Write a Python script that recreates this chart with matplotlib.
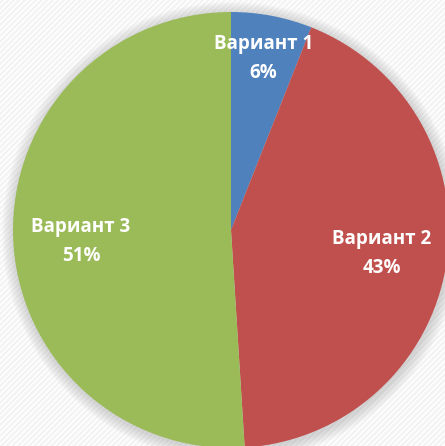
import numpy as np
import matplotlib.pyplot as plt
from matplotlib.patches import Rectangle, Circle

# data
labels = ['Вариант 1', 'Вариант 2', 'Вариант 3']
values = [6, 43, 51]
colors = ['#4F81BD', '#C0504D', '#9BBB59']
label_dist = [0.80, 0.70, 0.69]
label_turn = [0, 0, 2.5]   # small angle nudge for label placement, degrees

W, H = 445, 446
cx, cy, R = 231, H - 230, 218

plt.rcParams['hatch.linewidth'] = 1.2
fig = plt.figure(figsize=(W / 100, H / 100), dpi=100)
ax = fig.add_axes([0, 0, 1, 1])

# textured background
ax.add_patch(Rectangle((0, 0), W, H, facecolor='#f3f3f3', edgecolor='white',
                       hatch='//////', linewidth=0, zorder=0))

# soft shadow around the pie
for i in range(12):
    ax.add_patch(Circle((cx + 1, cy - 2), R + 12 - i, facecolor='#9a9a9a',
                        edgecolor='none', alpha=0.035, zorder=1))

wedges, _ = ax.pie(values, colors=colors, startangle=90, counterclock=False,
                   center=(cx, cy), radius=R, frame=True,
                   wedgeprops=dict(linewidth=0, zorder=2))
ax.set_xlim(0, W)
ax.set_ylim(0, H)
ax.set_aspect('equal')
ax.axis('off')

for w, lab, v, d, t in zip(wedges, labels, values, label_dist, label_turn):
    ang = np.deg2rad((w.theta1 + w.theta2) / 2 + t)
    x = cx + d * R * np.cos(ang)
    y = cy + d * R * np.sin(ang)
    ax.text(x, y, f'{lab}\n{v}%', ha='center', va='center', color='white',
            fontsize=13.5, fontweight='bold', family='Open Sans',
            linespacing=1.6, zorder=5)

fig.savefig('out.png', dpi=100)
